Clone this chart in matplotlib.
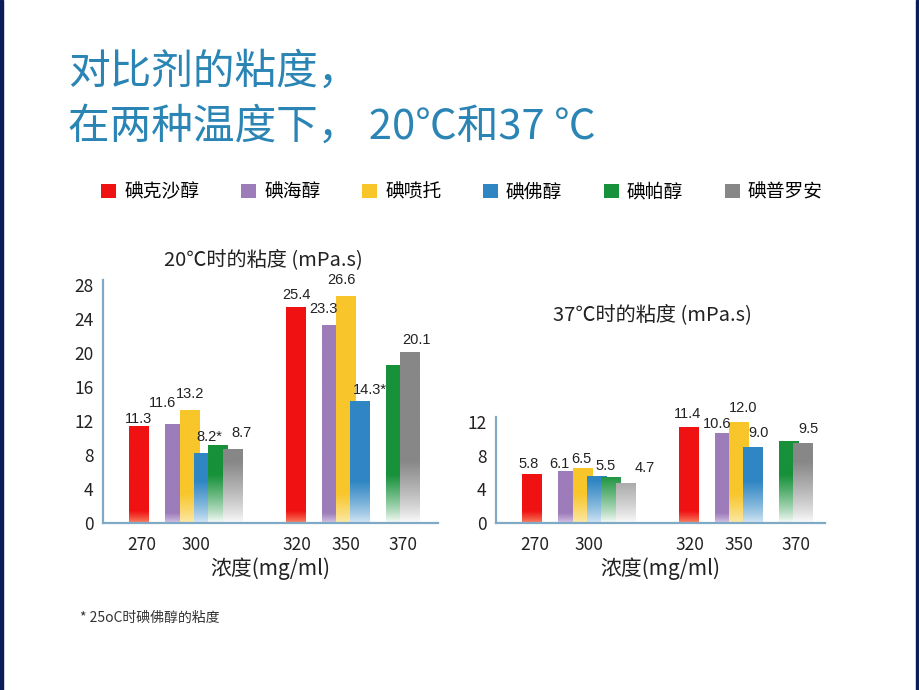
import numpy as np
import matplotlib.pyplot as plt
from matplotlib.colors import to_rgb
from matplotlib.patches import Patch, Rectangle

plt.rcParams['font.family'] = ['Noto Sans CJK SC', 'DejaVu Sans']

# data
agents = ['碘克沙醇', '碘海醇', '碘喷托', '碘佛醇', '碘帕醇', '碘普罗安']
concentrations = [270, 300, 320, 350, 370]
conc_low = [270, 300, 300, 300, 300, 300]
conc_high = [320, 350, 350, 350, 370, 370]
visc20_low = [11.3, 11.6, 13.2, 8.2, 9.1, 8.7]
visc20_high = [25.4, 23.3, 26.6, 14.3, 18.5, 20.1]
visc37_low = [5.8, 6.1, 6.5, 5.5, 5.4, 4.7]
visc37_high = [11.4, 10.6, 12.0, 9.0, 9.7, 9.5]
labelled = [True, True, True, True, False, True]
star20 = ['', '', '', '*', '', '']

# style
colors = ['#f01212', '#9d7cba', '#f8c62a', '#2f86c3', '#17913a', '#878787']
bottoms = ['#f98a6a', '#d9cbe8', '#fcebb0', '#d8e9f6', '#ffffff', '#ffffff']
fade_px = [12, 10, 30, 42, 48, 62]
spine_col = '#7fa9c4'
title_col = '#2a85b5'

# layout (pixels)
W, H = 920, 690
group_x = {270: 36, 300: 101, 320: 193, 350: 243, 370: 300}
tick_x = [39, 93, 194, 243, 300]
step, bar_w = 14.3, 20
# label offsets (dx, dy) in px from bar top centre
off20_low = [(0, 8), (-13, 21), (0, 17), (5, 16), None, (9, 16)]
off20_high = [(0, 12), (-8, 16), (-5, 17), (10, 11), None, (6, 12)]
off37_low = [(-3, 10), (-9, 8), (-1, 9), (9, 11), None, (19, 15)]
off37_high = [(-1, 13), (-8, 10), (4, 14), (5, 14), None, (5, 14)]


def draw_chart(ax, low, high, offs_low, offs_high, ymax, yticks, width_px, height_px, stars):
    ppu = height_px / ymax
    z = 2
    for c in concentrations:
        members = []
        for i in range(len(agents)):
            if conc_low[i] == c:
                members.append((i, low[i], offs_low[i], stars[i]))
            elif conc_high[i] == c:
                members.append((i, high[i], offs_high[i], stars[i]))
        n = len(members)
        for k, (i, v, off, st) in enumerate(members):
            x = group_x[c] + (k - (n - 1) / 2) * step
            ax.bar(x, v, width=bar_w, color=colors[i], linewidth=0, zorder=z)
            # fade towards the bottom of each bar
            yy = np.linspace(0, v, 300)
            t = np.clip(yy * ppu / fade_px[i], 0, 1) ** 0.8
            base = np.array(to_rgb(colors[i]))
            bot = np.array(to_rgb(bottoms[i]))
            img = (bot[None, :] * (1 - t[:, None]) + base[None, :] * t[:, None])[:, None, :]
            ax.imshow(img, extent=(x - bar_w / 2, x + bar_w / 2, 0, v), origin='lower',
                      aspect='auto', interpolation='bilinear', zorder=z + 0.5)
            if labelled[i] and off is not None:
                ax.annotate(f'{v:.1f}{st}', (x, v), xytext=(off[0] * 0.72, off[1] * 0.72),
                            textcoords='offset points', ha='center', va='center',
                            fontsize=10.5, family=['Liberation Sans'], color='#222222',
                            zorder=20)
            z += 1
    ax.set_xlim(0, width_px)
    ax.set_ylim(0, ymax)
    ax.set_yticks(yticks)
    ax.set_xticks(tick_x)
    ax.set_xticklabels([str(c) for c in concentrations])
    ax.tick_params(axis='both', length=0, labelsize=12.5, colors='#222222')
    ax.tick_params(axis='y', pad=7)
    ax.tick_params(axis='x', pad=9)
    for s in ['top', 'right']:
        ax.spines[s].set_visible(False)
    for s in ['left', 'bottom']:
        ax.spines[s].set_color(spine_col)
        ax.spines[s].set_linewidth(1.6)
        ax.spines[s].set_zorder(30)
    ax.set_xlabel('浓度(mg/ml)', fontsize=15, color='#222222', labelpad=3)


fig = plt.figure(figsize=(W / 100, H / 100), dpi=100)

ax1 = fig.add_axes([103 / W, 1 - 523 / H, 335 / W, 243 / H])
draw_chart(ax1, visc20_low, visc20_high, off20_low, off20_high, 28.6,
           [0, 4, 8, 12, 16, 20, 24, 28], 335, 243, star20)
ax1.set_title('20℃时的粘度 (mPa.s)', fontsize=14.5, color='#222222', x=0.48, pad=11)

ax2 = fig.add_axes([496 / W, 1 - 523 / H, 329 / W, 106 / H])
draw_chart(ax2, visc37_low, visc37_high, off37_low, off37_high, 12.6,
           [0, 4, 8, 12], 329, 106, [''] * 6)
ax2.set_title('37℃时的粘度 (mPa.s)', fontsize=14.5, color='#222222', x=0.477, pad=70)

fig.text(68 / W, 1 - 72 / H, '对比剂的粘度，', fontsize=30, color=title_col, va='center', ha='left')
fig.text(68 / W, 1 - 127 / H, '在两种温度下， 20℃和37 ℃', fontsize=30, color=title_col,
         va='center', ha='left')

handles = [Patch(facecolor=c, edgecolor='none') for c in colors]
fig.legend(handles, agents, loc='center', bbox_to_anchor=(462 / W, 1 - 192 / H), ncol=6,
           frameon=False, fontsize=13.5, handlelength=0.8, handleheight=0.75,
           handletextpad=0.45, columnspacing=2.2)

fig.text(80 / W, 1 - 618 / H, '* 25oC时碘佛醇的粘度', fontsize=10, color='#333333',
         va='center', ha='left')

fig.add_artist(Rectangle((0, 0), 3 / W, 1, transform=fig.transFigure, color='#0b1d58'))
fig.add_artist(Rectangle((1 - 4 / W, 0), 4 / W, 1, transform=fig.transFigure, color='#0b1d58'))

fig.savefig('out.png', dpi=100)
